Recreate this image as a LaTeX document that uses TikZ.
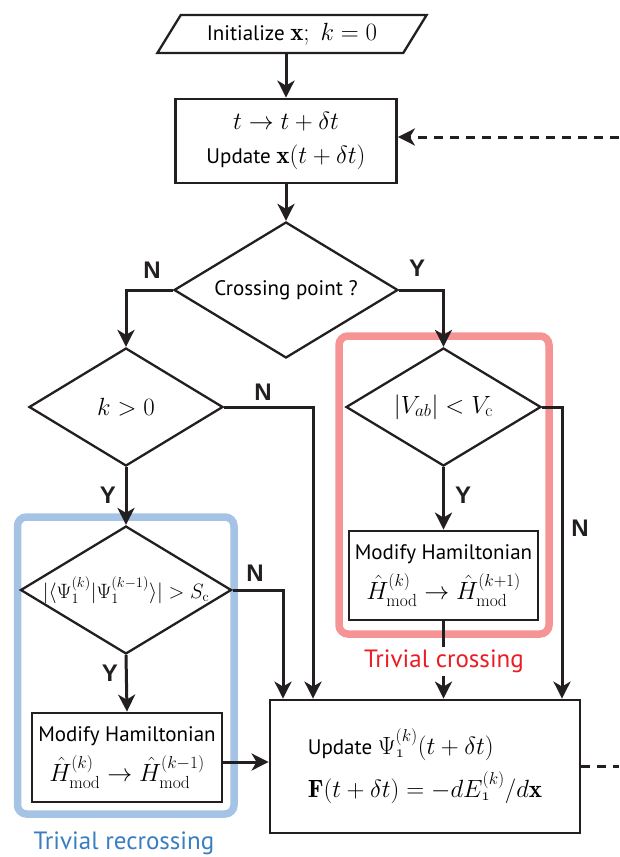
\documentclass[tikz,border=0pt]{standalone}
\usepackage{amsmath}
\usepackage{fontspec}
\usepackage{xcolor}
\usepackage{tikz}
\usetikzlibrary{shapes.geometric,arrows.meta}
\newfontfamily\myriad{PT Sans}
\newfontfamily\helv{Liberation Sans}
\definecolor{ink}{HTML}{231F20}
\definecolor{redbox}{HTML}{F59395}
\definecolor{redtxt}{HTML}{EC1C24}
\definecolor{bluebox}{HTML}{A5C3E4}
\definecolor{bluetxt}{HTML}{3A7EC2}
\newcommand{\boxfont}{\myriad\fontsize{21}{34}\selectfont}
\newcommand{\ynfont}{\helv\bfseries\fontsize{24}{26}\selectfont}
\newcommand{\grpfont}{\myriad\fontsize{25}{28}\selectfont}
\newcommand{\mth}[1]{{\fontsize{25}{34}\selectfont$#1$}}
\tikzset{
  stepbox/.style={draw=ink, line width=2.8pt, rectangle, align=center, inner sep=2pt, font=\boxfont},
  decide/.style={draw=ink, line width=2.3pt, diamond, aspect=1.65, inner sep=0pt, align=center, font=\boxfont},
  inbox/.style={draw=ink, line width=2.3pt, trapezium, trapezium left angle=51,
    trapezium right angle=129, trapezium stretches=true, inner sep=0pt, font=\boxfont},
  flow/.style={draw=ink, line width=3pt, -{Stealth[length=17pt,width=17pt,inset=5pt]}},
  back/.style={draw=ink, line width=3pt, dash pattern=on 9pt off 7pt},
  yn/.style={text=ink, font=\ynfont},
  grp/.style={line width=7.5pt, rounded corners=9pt},
  grplab/.style={font=\grpfont, fill=white, inner sep=0pt, inner ysep=3pt}
}

\begin{document}
\begin{tikzpicture}[x=1pt, y=-1pt]
  \useasboundingbox (0,0) rectangle (619,857);

  % groups behind the chart
  \draw[grp, draw=redbox] (339,336) rectangle (549,634);
  \draw[grp, draw=bluebox] (17.5,517) rectangle (234,814);

  \node[inbox, minimum width=270pt, minimum height=38pt] (init) at (292,34)
    {Initialize \mth{\mathbf{x};\ k=0}};
  \node[stepbox, minimum width=221pt, minimum height=84pt] (tstep) at (286,141)
    {\mth{t\to t+\delta t}\\ Update \mth{\mathbf{x}(t+\delta t)}};
  \node[decide, minimum width=224pt, minimum height=136pt] (cross) at (286,290)
    {Crossing point ?};
  \node[decide, minimum width=194pt, minimum height=118pt] (kpos) at (126,407)
    {\mth{k>0}};
  \node[decide, minimum width=195pt, minimum height=118pt] (vab) at (443.5,407)
    {\mth{|V_{ab}|<V_\mathrm{c}}};
  \node[decide, minimum width=194pt, minimum height=116pt] (ovl) at (126,590)
    {\fontsize{20}{24}\selectfont$|\langle\Psi^{(k)}_1|\Psi^{(k-1)}_1\rangle|>S_\mathrm{c}$};
  \node[stepbox, minimum width=189pt, minimum height=89pt] (modr) at (443.5,575.5)
    {Modify Hamiltonian\\[6pt] \mth{\hat{H}^{(k)}_\mathrm{mod}\to\hat{H}^{(k+1)}_\mathrm{mod}}};
  \node[stepbox, minimum width=190pt, minimum height=89pt] (modl) at (127,757.5)
    {Modify Hamiltonian\\[6pt] \mth{\hat{H}^{(k)}_\mathrm{mod}\to\hat{H}^{(k-1)}_\mathrm{mod}}};
  \node[stepbox, minimum width=310pt, minimum height=133pt, align=left] (upd) at (425,766.5)
    {Update \mth{\Psi^{(k)}_{\mathnormal{1}}(t+\delta t)}\\[9pt]
     \mth{\mathbf{F}(t+\delta t)=-dE^{(k)}_{\mathnormal{1}}/d\mathbf{x}}};

  % columns where the branches enter the last box
  \coordinate (colA) at (283,0);
  \coordinate (colB) at (313,0);
  \coordinate (colD) at (562,0);
  \coordinate (rowL) at (0,762);
  \coordinate (loopin) at (619,137);
  \coordinate (loopout) at (619,766.5);

  \draw[flow] (init.south -| tstep.north) -- (tstep.north);
  \draw[flow] (tstep.south) -- (cross.north);
  \draw[flow] (cross.west) -| (kpos.north);
  \draw[flow] (cross.east) -| (vab.north);
  \draw[flow] (kpos.south) -- (ovl.north);
  \draw[flow] (kpos.east) -| (upd.north -| colB);
  \draw[flow] (ovl.south) -- (modl.north);
  \draw[flow] (ovl.east) -| (upd.north -| colA);
  \draw[flow] (vab.south) -- (modr.north);
  \draw[flow] (vab.east) -| (upd.north -| colD);
  \draw[flow] (modr.south) -- (modr.south |- upd.north);
  \draw[flow] (modl.east |- rowL) -- (upd.west |- rowL);
  \draw[back, -{Stealth[length=17pt,width=17pt,inset=5pt]}] (loopin) -- (tstep.east |- loopin);
  \draw[back] (upd.east) -- (loopout);

  \node[yn] (nA) at (152,270) {N};
  \node[yn] (yA) at (417,268) {Y};
  \node[yn] (nB) at (263,392) {N};
  \node[yn] (yB) at (108,495) {Y};
  \node[yn] (nC) at (580,528) {N};
  \node[yn] (yC) at (463,495) {Y};
  \node[yn] (nD) at (255,573) {N};
  \node[yn] (yD) at (110,673) {Y};

  \node[grplab, text=redtxt] (redlab) at (444,661) {Trivial crossing};
  \node[grplab, text=bluetxt] (bluelab) at (124,843) {Trivial recrossing};
\end{tikzpicture}
\end{document}
